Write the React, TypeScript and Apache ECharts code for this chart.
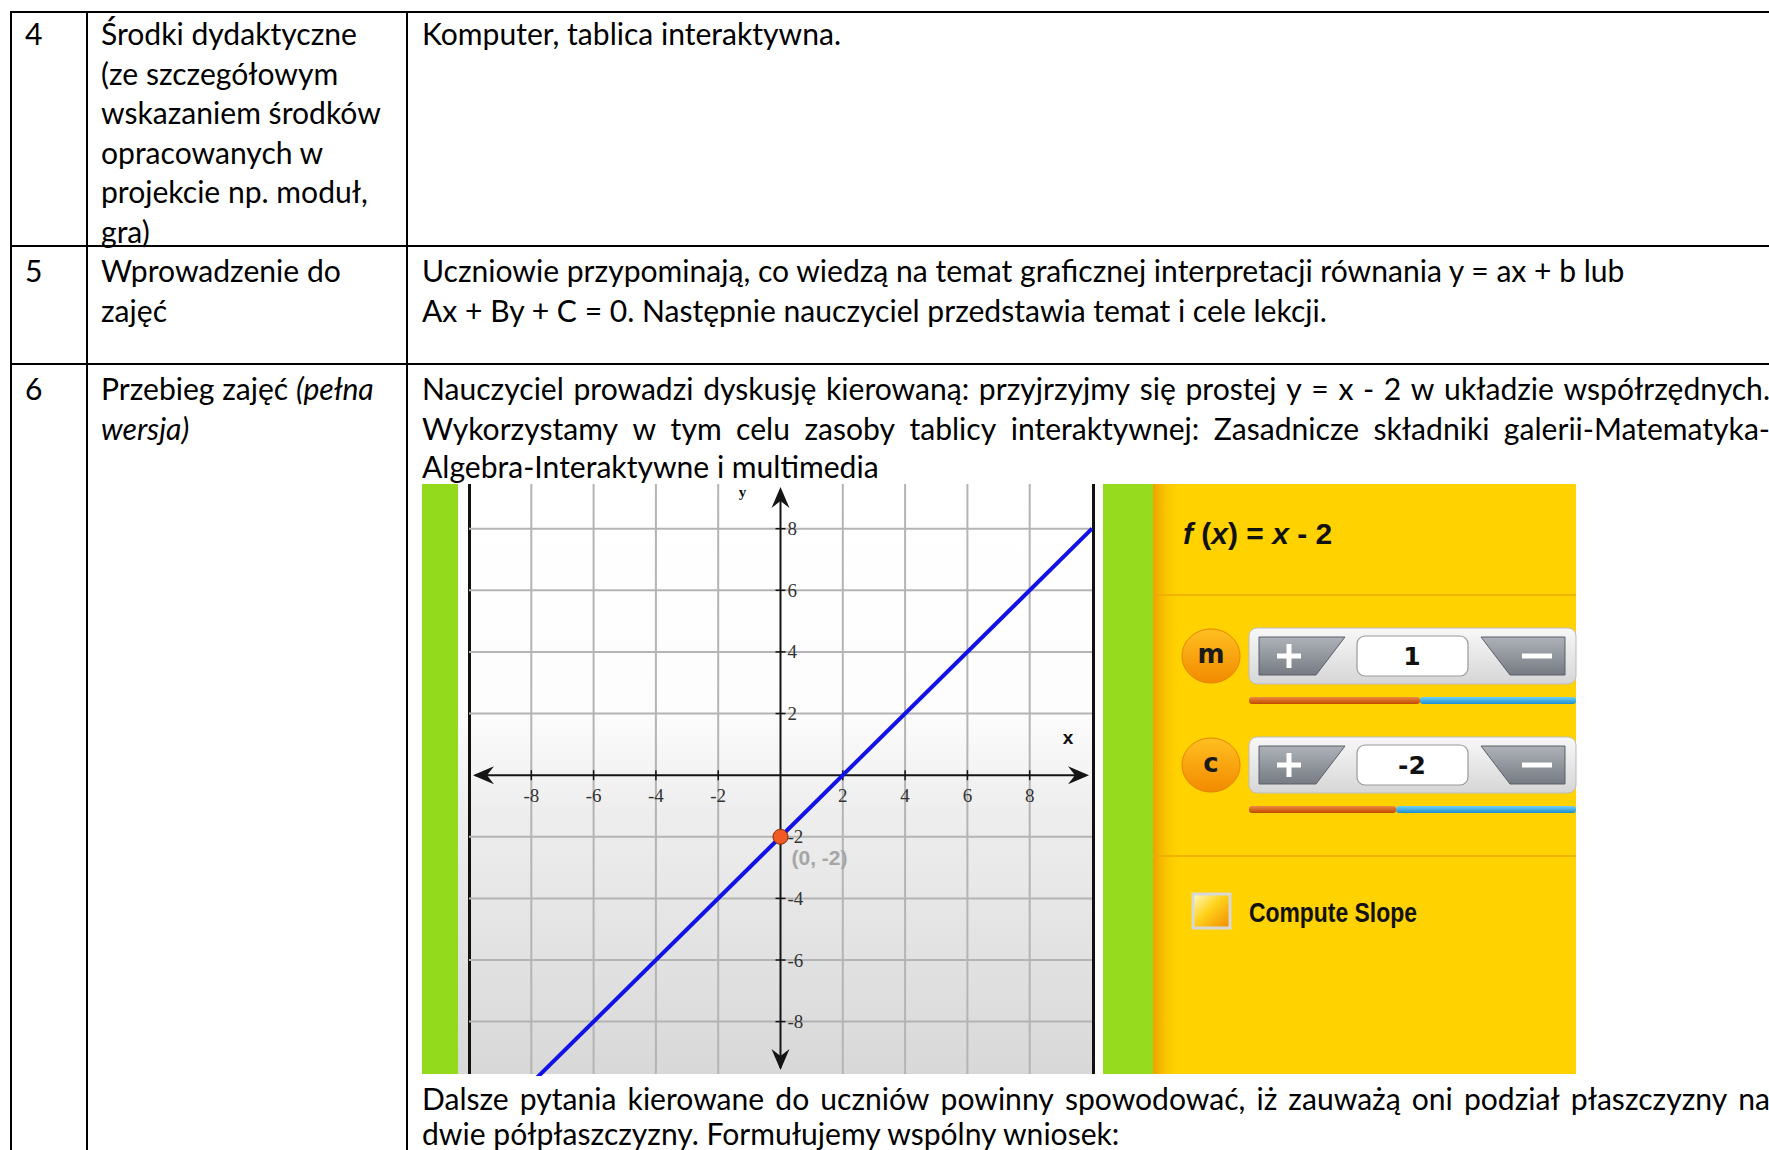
import React, { useEffect, useRef } from 'react';
import * as echarts from 'echarts';

// ---------------- Data ----------------
const rowNumbers = ['4', '5', '6'];
const row4Label = ['Środki dydaktyczne', '(ze szczegółowym', 'wskazaniem środków', 'opracowanych w', 'projekcie np. moduł,', 'gra)'];
const row4Content = ['Komputer, tablica interaktywna.'];
const row5Label = ['Wprowadzenie do', 'zajęć'];
const row5Content = [
  'Uczniowie przypominają, co wiedzą na temat graficznej interpretacji równania y = ax + b lub',
  'Ax + By + C = 0. Następnie nauczyciel przedstawia temat i cele lekcji.',
];
const row6LabelPlain = 'Przebieg zajęć ';
const row6LabelItalic = ['(pełna', 'wersja)'];
const row6Justified = [
  'Nauczyciel prowadzi dyskusję kierowaną: przyjrzyjmy się prostej y = x - 2 w układzie współrzędnych.',
  'Wykorzystamy w tym celu zasoby tablicy interaktywnej: Zasadnicze składniki galerii-Matematyka-',
];
const row6Last = 'Algebra-Interaktywne i multimedia';
const afterJustified = 'Dalsze pytania kierowane do uczniów powinny spowodować, iż zauważą oni podział płaszczyzny na';
const afterLast = 'dwie półpłaszczyzny. Formułujemy wspólny wniosek:';

const xRange = [-10, 10];
const yRange = [-9.7, 9.45];
const gridValues = [-8, -6, -4, -2, 2, 4, 6, 8];
const tickLabels = ['-8', '-6', '-4', '-2', '2', '4', '6', '8'];
const linePoints = [[-10, -12], [10, 8]];
const interceptPoint = [[0, -2]];
const interceptLabel = '(0, -2)';
const axisNames = ['x', 'y'];

const formulaParts: [string, boolean][] = [['f', true], [' (', false], ['x', true], [') = ', false], ['x', true], [' - 2', false]];
const paramNames = ['m', 'c'];
const paramValues = ['1', '-2'];
const sliderFractions = [0.523, 0.45];
const checkboxLabel = 'Compute Slope';

// ---------------- Helpers ----------------
const LATO = 'Lato';
let mctx: CanvasRenderingContext2D | null = null;
function tw(text: string, font: string): number {
  if (!mctx) mctx = document.createElement('canvas').getContext('2d');
  mctx!.font = font;
  return mctx!.measureText(text).width;
}

function txt(x: number, y: number, text: string, font: string, opts: any = {}) {
  const el: any = {
    type: 'text',
    x,
    y,
    z: opts.z ?? 0,
    silent: true,
    style: {
      text,
      font,
      fill: opts.fill ?? '#000',
      textAlign: opts.align ?? 'left',
      align: opts.align ?? 'left',
      textVerticalAlign: 'middle',
      verticalAlign: 'middle',
    },
  };
  if (opts.scaleX) el.scaleX = opts.scaleX;
  return el;
}

function justified(text: string, left: number, right: number, y: number, font: string) {
  const words = text.split(' ');
  const ws = words.map((w) => tw(w, font));
  const total = ws.reduce((a, b) => a + b, 0);
  const gap = (right - left - total) / (words.length - 1);
  let x = left;
  return words.map((w, i) => {
    const e = txt(x, y, w, font);
    x += ws[i] + gap;
    return e;
  });
}

function hline(x1: number, x2: number, y: number, stroke: string, lw: number, z = 0) {
  return { type: 'line', z, silent: true, shape: { x1, y1: y, x2, y2: y }, style: { stroke, lineWidth: lw } };
}
function vline(x: number, y1: number, y2: number, stroke: string, lw: number, z = 0) {
  return { type: 'line', z, silent: true, shape: { x1: x, y1, x2: x, y2 }, style: { stroke, lineWidth: lw } };
}
function rect(x: number, y: number, w: number, h: number, fill: any, z = 1, extra: any = {}) {
  return { type: 'rect', z, silent: true, shape: { x, y, width: w, height: h, r: extra.r ?? 0 }, style: { fill, stroke: extra.stroke, lineWidth: extra.lineWidth ?? 0 } };
}
const vgrad = (a: string, b: string) => ({ type: 'linear', x: 0, y: 0, x2: 0, y2: 1, colorStops: [{ offset: 0, color: a }, { offset: 1, color: b }] });

function buildOption() {
  const size = (100 * 419) / tw(row4Content[0], `400 100px ${LATO}`);
  const F = `400 ${size.toFixed(2)}px ${LATO}`;
  const FI = `italic 400 ${size.toFixed(2)}px ${LATO}`;
  const LH = 39.5;
  const c0 = 25, c1 = 101, c2 = 422, R = 1770;
  const g: any[] = [];

  // table lines
  [12, 246, 364].forEach((y) => g.push(hline(11, 1769, y, '#000', 2, 5)));
  [11, 87, 407].forEach((x) => g.push(vline(x, 11, 1150, '#000', 2, 5)));

  // row texts
  const rowY = [33, 270, 388];
  rowNumbers.forEach((n, i) => g.push(txt(c0, rowY[i], n, F)));
  row4Label.forEach((t, i) => g.push(txt(c1, rowY[0] + i * LH, t, F)));
  row4Content.forEach((t, i) => g.push(txt(c2, rowY[0] + i * LH, t, F)));
  row5Label.forEach((t, i) => g.push(txt(c1, rowY[1] + i * LH, t, F)));
  row5Content.forEach((t, i) => g.push(txt(c2, rowY[1] + i * LH, t, F)));
  g.push(txt(c1, rowY[2], row6LabelPlain, F));
  g.push(txt(c1 + tw(row6LabelPlain, F), rowY[2], row6LabelItalic[0], FI));
  g.push(txt(c1, rowY[2] + LH, row6LabelItalic[1], FI));
  row6Justified.forEach((t, i) => g.push(...justified(t, c2, R, rowY[2] + i * LH, F)));
  g.push(txt(c2, rowY[2] + 2 * LH - 1, row6Last, F));
  g.push(...justified(afterJustified, c2, R, 1098, F));
  g.push(txt(c2, 1133, afterLast, F));

  // chart picture background
  const top = 484, bot = 1074, H = bot - top;
  g.push(rect(422, top, 1154, H, '#ffffff', 1));
  g.push(rect(422, top, 36, H, '#93DA1D', 1));
  g.push(rect(458, top, 634, H, {
    type: 'linear', x: 0, y: 0, x2: 0, y2: 1,
    colorStops: [{ offset: 0, color: '#ffffff' }, { offset: 0.38, color: '#fdfdfd' }, { offset: 0.55, color: '#eeeeee' }, { offset: 1, color: '#d8d8d8' }],
  }, 1));
  g.push(vline(469.5, top, bot, '#111', 3, 1));
  g.push(vline(1093.5, top, bot, '#111', 3, 1));
  g.push(rect(1103, top, 50, H, '#96DB1E', 1));
  g.push(rect(1153, top, 423, H, '#FFD200', 1));
  g.push(rect(1153, top, 28, H, { type: 'linear', x: 0, y: 0, x2: 1, y2: 0, colorStops: [{ offset: 0, color: '#EBA200' }, { offset: 1, color: 'rgba(255,210,0,0)' }] }, 1));
  g.push(hline(1153, 1576, 595, '#EDAA00', 1.5, 1));
  g.push(hline(1153, 1576, 856, '#EDAA00', 1.5, 1));

  // formula
  const fs = 30;
  let fx = 1183;
  formulaParts.forEach(([t, it]) => {
    const font = `${it ? 'italic ' : ''}bold ${fs}px "Liberation Sans"`;
    g.push(txt(fx, 533, t, font, { z: 2, fill: '#111' }));
    fx += tw(t, font);
  });

  // parameter controls
  paramNames.forEach((name, i) => {
    const dy = i * 109;
    const cy = 656 + dy;
    g.push({ type: 'ellipse', z: 2, silent: true, shape: { cx: 1211, cy, rx: 29, ry: 27 }, style: { fill: vgrad('#FFC020', '#F28A00'), stroke: '#E58400', lineWidth: 1 } });
    g.push(txt(1211, cy - 2, name, 'bold 26px "DejaVu Sans"', { z: 3, align: 'center', fill: '#1a1a1a' }));
    g.push(rect(1249, 628 + dy, 327, 56, vgrad('#f8f8f8', '#d6d6d6'), 2, { r: 8, stroke: '#bdbdbd', lineWidth: 1 }));
    // plus button
    g.push({ type: 'polygon', z: 3, silent: true, shape: { points: [[1259, 637 + dy], [1345, 637 + dy], [1316, 675 + dy], [1259, 675 + dy]] }, style: { fill: vgrad('#aeb2b8', '#767b83'), stroke: '#5b6068', lineWidth: 1 } });
    g.push(rect(1277, cy - 2.5, 24, 5, '#ffffff', 4));
    g.push(rect(1286.5, cy - 12, 5, 24, '#ffffff', 4));
    // value box
    g.push(rect(1357, 636 + dy, 111, 40, '#ffffff', 3, { r: 8, stroke: '#9a9a9a', lineWidth: 1.2 }));
    g.push(txt(1412, cy, paramValues[i], 'bold 25px "DejaVu Sans"', { z: 4, align: 'center', fill: '#111' }));
    // minus button
    g.push({ type: 'polygon', z: 3, silent: true, shape: { points: [[1481, 637 + dy], [1565, 637 + dy], [1565, 675 + dy], [1510, 675 + dy]] }, style: { fill: vgrad('#aeb2b8', '#767b83'), stroke: '#5b6068', lineWidth: 1 } });
    g.push(rect(1522, cy - 2.5, 30, 5, '#ffffff', 4));
    // slider
    const sx = 1249, sw = 327, sy = 697 + dy;
    const split = sx + sw * sliderFractions[i];
    g.push(rect(sx, sy, split - sx, 7, vgrad('#EE8A40', '#BF4A00'), 2, { r: 3 }));
    g.push(rect(split, sy, sx + sw - split, 7, vgrad('#6FD0F5', '#1C8ECF'), 2, { r: 3 }));
  });

  // checkbox
  g.push(rect(1193, 894, 37, 34, { type: 'linear', x: 0, y: 0, x2: 1, y2: 1, colorStops: [{ offset: 0, color: '#FFFBC8' }, { offset: 0.45, color: '#FFD21A' }, { offset: 1, color: '#F18A00' }] }, 2, { stroke: '#d8d8d8', lineWidth: 3 }));
  const csFont = 'bold 28px "Liberation Sans"';
  g.push(txt(1249, 912, checkboxLabel, csFont, { z: 2, fill: '#111', scaleX: 168 / tw(checkboxLabel, csFont) }));

  const serif = '19px "Liberation Serif"';

  const renderItem = (params: any, api: any) => {
    const c = (x: number, y: number) => api.coord([x, y]);
    const ch: any[] = [];
    const gl = (a: number[], b: number[], stroke: string, lw: number) =>
      ch.push({ type: 'line', shape: { x1: a[0], y1: a[1], x2: b[0], y2: b[1] }, style: { stroke, lineWidth: lw } });
    gridValues.forEach((v) => {
      gl(c(v, yRange[0]), c(v, yRange[1]), '#b4b4b4', 2);
      gl(c(xRange[0], v), c(xRange[1], v), '#b4b4b4', 2);
    });
    const o = c(0, 0);
    const xl = c(xRange[0], 0), xr = c(xRange[1], 0);
    const yt = c(0, 9.35), yb = c(0, yRange[0]);
    gl([xl[0] + 6, o[1]], [xr[0] - 6, o[1]], '#151515', 2);
    gl([o[0], yt[1] + 4], [o[0], yb[1] - 6], '#151515', 2);
    const arrow = (tip: number[], dx: number, dy: number) => {
      const L = 21, W = 9, N = 14;
      const px = -dy, py = dx;
      ch.push({
        type: 'polygon',
        shape: { points: [
          tip,
          [tip[0] + dx * L + px * W, tip[1] + dy * L + py * W],
          [tip[0] + dx * N, tip[1] + dy * N],
          [tip[0] + dx * L - px * W, tip[1] + dy * L - py * W],
        ] },
        style: { fill: '#151515' },
      });
    };
    arrow([xl[0] + 4, o[1]], 1, 0);
    arrow([xr[0] - 3, o[1]], -1, 0);
    arrow([o[0], yt[1]], 0, 1);
    arrow([o[0], yb[1] - 4], 0, -1);
    gridValues.forEach((v, i) => {
      const p = c(v, 0);
      gl([p[0], p[1] - 5], [p[0], p[1] + 5], '#151515', 1.5);
      ch.push({ type: 'text', x: p[0], y: p[1] + 20, style: { text: tickLabels[i], font: serif, fill: '#333', textAlign: 'center', align: 'center', textVerticalAlign: 'middle', verticalAlign: 'middle' } });
      const q = c(0, v);
      gl([q[0] - 5, q[1]], [q[0] + 5, q[1]], '#151515', 1.5);
      ch.push({ type: 'text', x: q[0] + 7, y: q[1], style: { text: tickLabels[i], font: serif, fill: '#333', textAlign: 'left', align: 'left', textVerticalAlign: 'middle', verticalAlign: 'middle' } });
    });
    ch.push({ type: 'text', x: xr[0] - 24, y: o[1] - 38, style: { text: axisNames[0], font: 'bold 19px "Liberation Sans"', fill: '#111', textAlign: 'center', align: 'center', textVerticalAlign: 'middle', verticalAlign: 'middle' } });
    ch.push({ type: 'text', x: o[0] - 38, y: yt[1] + 5, style: { text: axisNames[1], font: 'bold 15px "Liberation Serif"', fill: '#111', textAlign: 'center', align: 'center', textVerticalAlign: 'middle', verticalAlign: 'middle' } });
    return { type: 'group', children: ch };
  };

  return {
    animation: false,
    backgroundColor: '#ffffff',
    grid: { left: 469, top: top, width: 623, height: H, containLabel: false },
    xAxis: { type: 'value', min: xRange[0], max: xRange[1], show: false },
    yAxis: { type: 'value', min: yRange[0], max: yRange[1], show: false },
    graphic: { elements: g },
    series: [
      { type: 'custom', z: 2, silent: true, clip: false, data: [[0, 0]], renderItem },
      {
        type: 'line', z: 3, silent: true, data: linePoints, symbol: 'none', showSymbol: false, clip: true,
        lineStyle: { color: '#1212E6', width: 4 },
      },
      {
        type: 'scatter', z: 4, silent: true, data: interceptPoint, symbolSize: 15,
        itemStyle: { color: '#F15A24', borderColor: '#7a2a0a', borderWidth: 1, opacity: 1 },
        label: {
          show: true, formatter: interceptLabel, position: 'right', distance: 3, offset: [0, 21],
          color: '#a6a6a6', fontWeight: 'bold', fontSize: 21, fontFamily: 'Liberation Sans',
        },
      },
    ],
  };
}

export default function App() {
  const ref = useRef<HTMLDivElement>(null);
  useEffect(() => {
    const chart = echarts.init(ref.current!, null, { renderer: 'svg' });
    chart.setOption(buildOption() as any);
    return () => chart.dispose();
  }, []);
  return (
    <div
      ref={ref}
      style={{ position: 'absolute', left: 0, top: 0, width: 1769, height: 1150, background: '#fff' }}
    />
  );
}
